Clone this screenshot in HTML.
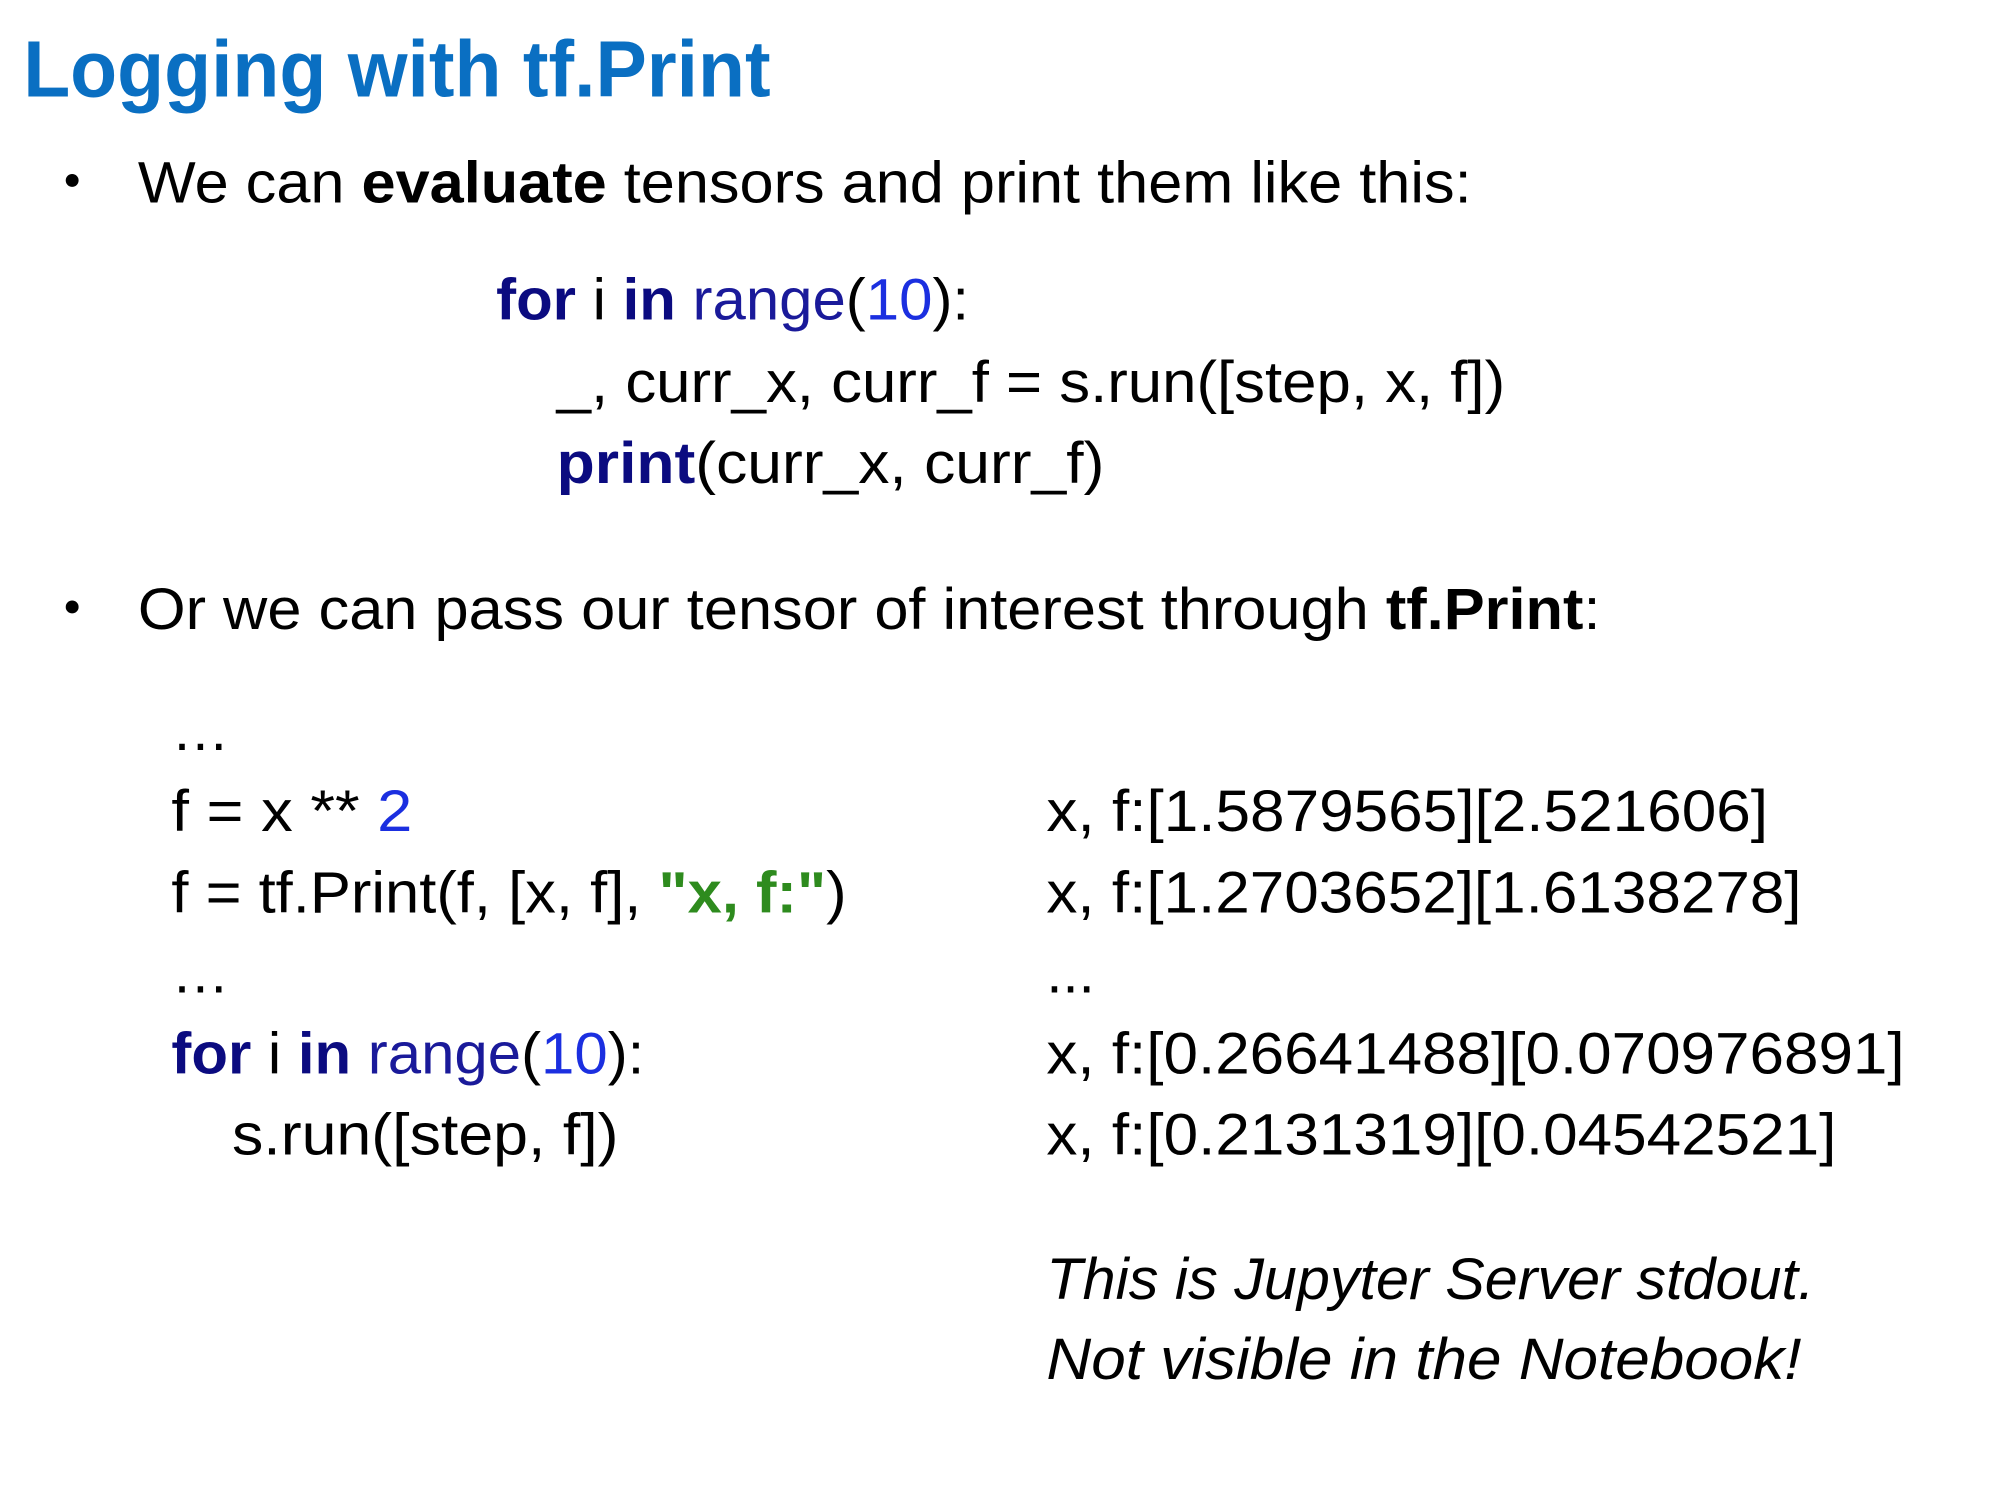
<!DOCTYPE html>
<html><head><meta charset="utf-8"><style>
html,body{margin:0;padding:0;background:#fff;}
svg{display:block;}
text{font-family:"Liberation Sans",sans-serif;font-size:45px;fill:#000;}
.t{font-size:62px;font-weight:bold;fill:#0a6fc2;}
.k{fill:#0b0b80;font-weight:bold;}
.r{fill:#1a1a9a;}
.n{fill:#1b2fe0;}
.s{fill:#2e8b1e;font-weight:bold;}
.b{font-weight:bold;}
.i{font-style:italic;}
</style></head><body>
<svg width="2000" height="1500" viewBox="0 0 1552 1164" xmlns="http://www.w3.org/2000/svg">
<text class="t" x="18" y="75" textLength="580" lengthAdjust="spacingAndGlyphs">Logging with tf.Print</text>
<circle cx="56" cy="140" r="5" fill="#000"/>
<text x="107" y="157" textLength="1035" lengthAdjust="spacingAndGlyphs">We can <tspan class="b">evaluate</tspan> tensors and print them like this:</text>
<text x="385" y="248" textLength="367" lengthAdjust="spacingAndGlyphs"><tspan class="k">for</tspan> i <tspan class="k">in</tspan> <tspan class="r">range</tspan>(<tspan class="n">10</tspan>):</text>
<text x="432" y="312" textLength="736" lengthAdjust="spacingAndGlyphs">_, curr_x, curr_f = s.run([step, x, f])</text>
<text x="432" y="375" textLength="425" lengthAdjust="spacingAndGlyphs"><tspan class="k">print</tspan>(curr_x, curr_f)</text>
<circle cx="56" cy="471" r="5" fill="#000"/>
<text x="107" y="488" textLength="1135" lengthAdjust="spacingAndGlyphs">Or we can pass our tensor of interest through <tspan class="b">tf.Print</tspan>:</text>
<text x="133" y="582">…</text>
<text x="133" y="645" textLength="187" lengthAdjust="spacingAndGlyphs">f = x ** <tspan class="n">2</tspan></text>
<text x="133" y="708" textLength="524" lengthAdjust="spacingAndGlyphs">f = tf.Print(f, [x, f], <tspan class="s">"x, f:"</tspan>)</text>
<text x="133" y="770">…</text>
<text x="133" y="833" textLength="367" lengthAdjust="spacingAndGlyphs"><tspan class="k">for</tspan> i <tspan class="k">in</tspan> <tspan class="r">range</tspan>(<tspan class="n">10</tspan>):</text>
<text x="180" y="896" textLength="300" lengthAdjust="spacingAndGlyphs">s.run([step, f])</text>
<text x="812" y="645" textLength="560" lengthAdjust="spacingAndGlyphs">x, f:[1.5879565][2.521606]</text>
<text x="812" y="708" textLength="586" lengthAdjust="spacingAndGlyphs">x, f:[1.2703652][1.6138278]</text>
<text x="812" y="770">...</text>
<text x="812" y="833" textLength="666" lengthAdjust="spacingAndGlyphs">x, f:[0.26641488][0.070976891]</text>
<text x="812" y="896" textLength="613" lengthAdjust="spacingAndGlyphs">x, f:[0.2131319][0.04542521]</text>
<text class="i" x="812" y="1008" textLength="596" lengthAdjust="spacingAndGlyphs">This is Jupyter Server stdout.</text>
<text class="i" x="812" y="1070" textLength="586" lengthAdjust="spacingAndGlyphs">Not visible in the Notebook!</text>
</svg>
</body></html>
